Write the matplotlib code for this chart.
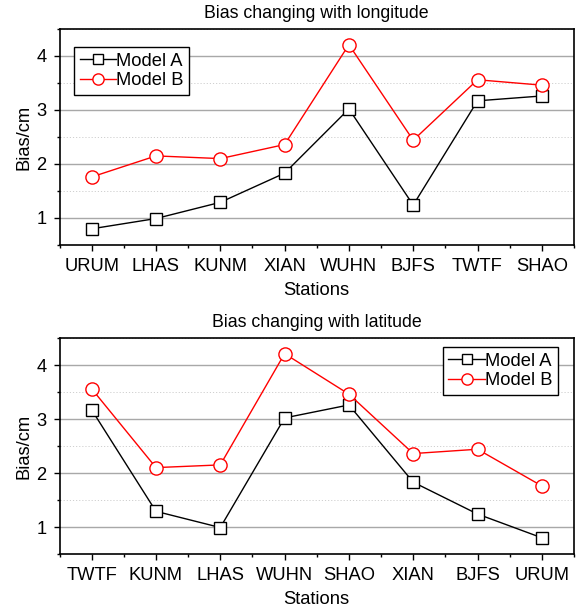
import matplotlib
matplotlib.use("Agg")
import matplotlib.pyplot as plt
from matplotlib.ticker import MultipleLocator, FixedLocator

plt.rcParams['font.family'] = ['Liberation Sans', 'DejaVu Sans']

# bias values per station (cm)
stations = ["URUM", "LHAS", "KUNM", "XIAN", "WUHN", "BJFS", "TWTF", "SHAO"]
model_a = [0.80, 0.99, 1.29, 1.83, 3.02, 1.24, 3.17, 3.26]
model_b = [1.76, 2.15, 2.10, 2.36, 4.21, 2.44, 3.56, 3.46]

order_lon = ["URUM", "LHAS", "KUNM", "XIAN", "WUHN", "BJFS", "TWTF", "SHAO"]
order_lat = ["TWTF", "KUNM", "LHAS", "WUHN", "SHAO", "XIAN", "BJFS", "URUM"]

W, H = 579, 610
fig = plt.figure(figsize=(W / 100, H / 100), dpi=100)


def panel(rect, order, title, leg_loc, leg_anchor):
    ax = fig.add_axes(rect)
    idx = [stations.index(s) for s in order]
    xs = list(range(len(order)))
    ax.plot(xs, [model_a[i] for i in idx], color='black', lw=1.0,
            marker='s', ms=8, mfc='white', mec='black', mew=1.0, label='Model A')
    ax.plot(xs, [model_b[i] for i in idx], color='red', lw=1.0,
            marker='o', ms=9.5, mfc='white', mec='red', mew=1.0, label='Model B')

    ax.set_xlim(-0.5, 7.5)
    ax.set_ylim(0.5, 4.5)
    ax.set_xticks(xs)
    ax.set_xticklabels(order)
    ax.xaxis.set_minor_locator(FixedLocator([x + 0.5 for x in range(-1, 8)]))
    ax.set_yticks([1, 2, 3, 4])
    ax.yaxis.set_minor_locator(MultipleLocator(0.5))

    ax.grid(axis='y', which='major', color='#a8a8a8', lw=1.0, ls='-')
    ax.grid(axis='y', which='minor', color='#cfcfcf', lw=0.7, ls=(0, (1.2, 2)))
    ax.set_axisbelow(True)

    ax.tick_params(which='major', direction='out', length=4.5, width=1.0,
                   labelsize=13.2, pad=5, colors='black')
    ax.tick_params(which='minor', direction='out', length=2.5, width=1.0)
    ax.tick_params(axis='y', which='major', pad=5)
    for s in ax.spines.values():
        s.set_linewidth(1.2)

    ax.set_xlabel("Stations", fontsize=13.2, labelpad=5)
    ax.set_ylabel("Bias/cm", fontsize=13.2, labelpad=3)
    ax.set_title(title, fontsize=12.8, pad=8)

    leg = ax.legend(loc=leg_loc, bbox_to_anchor=leg_anchor,
                    bbox_transform=fig.transFigure, fontsize=13.2,
                    frameon=True, fancybox=False, edgecolor='black',
                    framealpha=1, handlelength=2.0, handletextpad=0.0,
                    borderpad=0.3, labelspacing=0.15, borderaxespad=0,
                    markerscale=0.85)
    leg.get_frame().set_linewidth(1.0)
    return ax


panel([59.5 / W, 1 - 245 / H, (574 - 59.5) / W, 216 / H], order_lon,
      "Bias changing with longitude", 'upper left', (74 / W, 1 - 47 / H))
panel([59.5 / W, 1 - 554 / H, (574 - 59.5) / W, 216 / H], order_lat,
      "Bias changing with latitude", 'upper right', (558 / W, 1 - 347 / H))

fig.savefig("out.png", dpi=100)
